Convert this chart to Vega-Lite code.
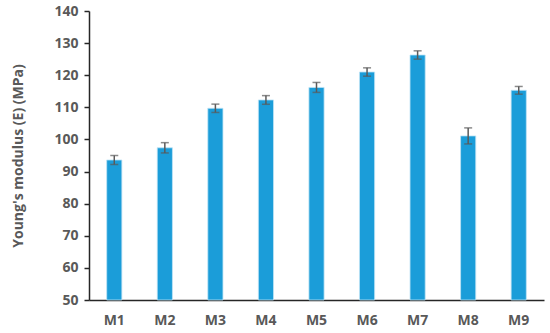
{
  "$schema": "https://vega.github.io/schema/vega-lite/v6.json",
  "autosize": {"type": "none"},
  "padding": {"left": 89, "top": 11, "right": 6, "bottom": 33},
  "width": 455,
  "height": 289,
  "background": "white",
  "config": {
    "view": {"stroke": null},
    "font": "Open Sans"
  },
  "data": {
    "values": [
      {"sample": "M1", "E": 93.6, "err": 1.4},
      {"sample": "M2", "E": 97.4, "err": 1.6},
      {"sample": "M3", "E": 109.7, "err": 1.3},
      {"sample": "M4", "E": 112.3, "err": 1.35},
      {"sample": "M5", "E": 116.2, "err": 1.55},
      {"sample": "M6", "E": 121.0, "err": 1.3},
      {"sample": "M7", "E": 126.3, "err": 1.3},
      {"sample": "M8", "E": 101.1, "err": 2.5},
      {"sample": "M9", "E": 115.3, "err": 1.2}
    ]
  },
  "encoding": {
    "x": {
      "field": "sample", "type": "nominal", "sort": null,
      "scale": {"paddingInner": 0.7, "paddingOuter": 0.35},
      "axis": {
        "title": null, "labelAngle": 0, "ticks": false,
        "domainColor": "#262626", "domainWidth": 1.5,
        "labelColor": "#595959", "labelFontSize": 14, "labelFontWeight": "bold",
        "labelPadding": 13
      }
    },
    "y": {
      "field": "E", "type": "quantitative",
      "title": "Young's modulus (E) (MPa)",
      "scale": {"domain": [50, 140], "zero": false, "clamp": true},
      "axis": {
        "values": [50, 60, 70, 80, 90, 100, 110, 120, 130, 140],
        "labelOverlap": false,
        "grid": false,
        "domainColor": "#262626", "domainWidth": 1.5,
        "tickColor": "#262626", "tickSize": 5, "tickWidth": 1.5,
        "labelColor": "#595959", "labelFontSize": 14, "labelFontWeight": "bold",
        "labelPadding": 6,
        "titleColor": "#595959", "titleFontSize": 14, "titleFontWeight": "bold",
        "titlePadding": 28
      }
    }
  },
  "layer": [
    {
      "mark": {"type": "bar", "color": "#1b9dd9", "stroke": "#bfe3f5", "strokeWidth": 0.8}
    },
    {
      "mark": {"type": "errorbar", "ticks": {"size": 8, "color": "#5a5a5a", "thickness": 1.5}, "rule": {"color": "#5a5a5a", "strokeWidth": 1.5}},
      "encoding": {
        "yError": {"field": "err"}
      }
    }
  ]
}
